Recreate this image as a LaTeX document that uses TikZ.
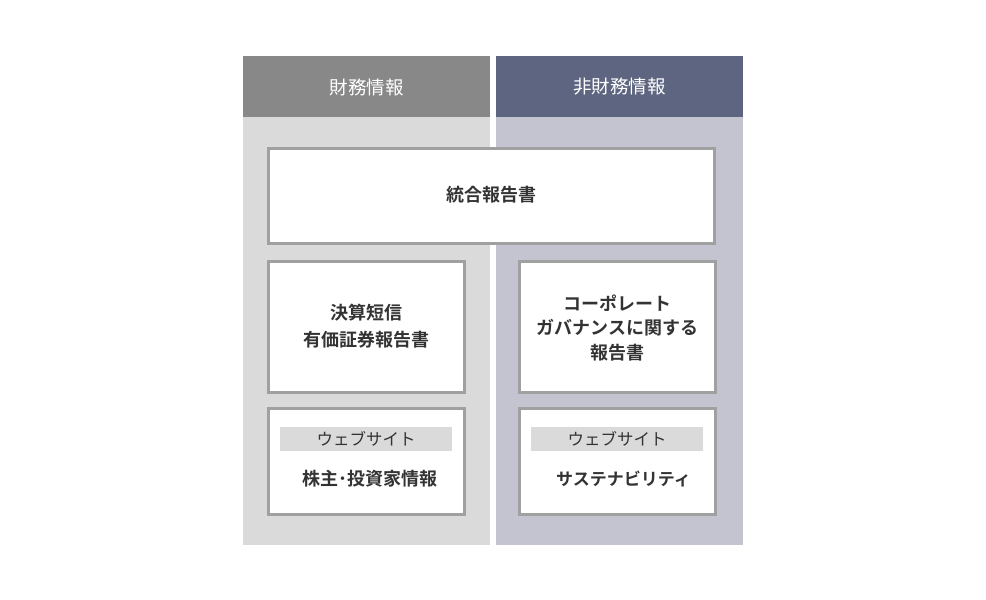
\documentclass[tikz,border=0pt]{standalone}
\usepackage{fontspec}
\newfontfamily\jp{Noto Sans CJK JP}[BoldFont={Noto Sans CJK JP Bold}]
\definecolor{hdrL}{HTML}{888888}
\definecolor{hdrR}{HTML}{5D6580}
\definecolor{panL}{HTML}{DADADA}
\definecolor{panR}{HTML}{C4C4D0}
\definecolor{bord}{HTML}{A0A0A0}
\definecolor{txt}{HTML}{333333}
\tikzset{
  hdrtext/.style={text=white,font=\jp\fontsize{18.5}{22}\selectfont},
  docbox/.style={draw=bord,line width=3pt,fill=white},
  doctext/.style={text=txt,font=\jp\bfseries\fontsize{18}{27}\selectfont,align=center},
  webstrip/.style={fill=panL},
  webtext/.style={text=txt,font=\jp\fontsize{16.5}{20}\selectfont},
}
\begin{document}
\begin{tikzpicture}[x=1pt,y=-1pt]
\useasboundingbox (0,0) rectangle (986,600);
\fill[white] (0,0) rectangle (986,600);
% panels
\fill[panL] (243,117) rectangle (490,545);
\fill[panR] (496,117) rectangle (743,545);
\fill[hdrL] (243,56) rectangle (490,117);
\fill[hdrR] (496,56) rectangle (743,117);
\node[hdrtext] (hL) at (366.5,87) {財務情報};
\node[hdrtext] (hR) at (619.5,87) {非財務情報};
% integrated report
\draw[docbox] (268.5,148.5) rectangle (714.5,243.5);
\node[doctext] (ir) at (491.5,195) {統合報告書};
% middle boxes
\draw[docbox] (268.5,261.5) rectangle (464.5,392.5);
\node[doctext] (fin) at (366.5,326) {決算短信\\有価証券報告書};
\draw[docbox] (519.5,261.5) rectangle (715.5,392.5);
\node[doctext,font=\jp\bfseries\fontsize{18}{24.5}\selectfont] (cg) at (617.5,328) {コーポレート\\ガバナンスに関する\\報告書};
% web boxes
\draw[docbox] (268.5,408.5) rectangle (464.5,514.5);
\fill[webstrip] (280,427) rectangle (452,451);
\node[webtext] (wL) at (366,439) {ウェブサイト};
\node[doctext] (ir2) at (370,479) {株主･投資家情報};
\draw[docbox] (519.5,408.5) rectangle (715.5,514.5);
\fill[webstrip] (531,427) rectangle (703,451);
\node[webtext] (wR) at (617,439) {ウェブサイト};
\node[doctext,font=\jp\bfseries\fontsize{17}{20}\selectfont] (sus) at (623.5,479) {サステナビリティ};
\end{tikzpicture}
\end{document}
